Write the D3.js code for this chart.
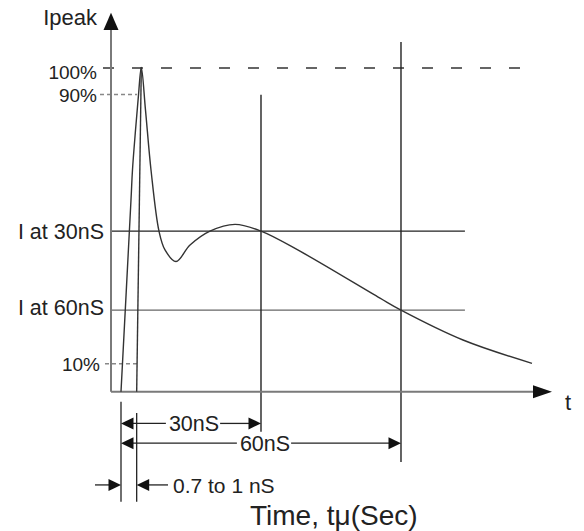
<!doctype html>
<html>
<head>
<title>Surge current waveform</title>
<script src="https://d3js.org/d3.v7.min.js"></script>
<style>
body { margin: 0; background: #fff; }
svg { display: block; font-family: "Liberation Sans", Arial, sans-serif; }
text { fill: #222; }
</style>
</head>
<body>
<script>
// waveform: t in ns (schematic), current in % of Ipeak
var waveT = [0, 2.14, 2.46, 3.11, 3.75, 4.35, 5.25, 6.43, 8.14, 9.43, 11.79, 14.79, 19.07, 24.43, 30, 38.36, 55.5, 60, 73.29, 88.07];
var waveI = [0, 59.2, 68.5, 80.8, 91.7, 100.2, 87.0, 68.5, 49.6, 43.8, 40.2, 45.3, 49.6, 51.7, 49.6, 43.4, 28.9, 25.2, 15.97, 8.77];
var riseT = [3.36, 4.35];
var riseI = [0, 100.2];

var levelLabels = ["100%", "90%", "I at 30nS", "I at 60nS", "10%"];
var levelValues = [100, 91.8, 49.6, 25.2, 8.65];

var spanT = [30, 60];
var spanLabels = ["30nS", "60nS"];
var riseMarks = [0, 3.36];
var riseLabel = "0.7 to 1 nS";

var width = 584, height = 531;

var x = d3.scaleLinear().domain([-2.143, 92.36]).range([111, 552]);
var y = d3.scaleLinear().domain([0, 100]).range([391.7, 68]);

var svg = d3.select("body").append("svg").attr("width", width).attr("height", height);

function arrow(tx, ty, dir, len, half) {
  // filled triangle, tip at (tx,ty); dir: "l","r","u"
  var p;
  if (dir == "r") p = [[tx, ty], [tx - len, ty - half], [tx - len, ty + half]];
  else if (dir == "l") p = [[tx, ty], [tx + len, ty - half], [tx + len, ty + half]];
  else p = [[tx, ty], [tx - half, ty + len], [tx + half, ty + len]];
  svg.append("path").attr("d", "M" + p.join("L") + "Z").attr("fill", "#111");
}

// level guide styles (per label)
var levelStyle = [
  {from: -3.86, to: 85.5, stroke: "#333", dash: "11,18", w: 1.4, lx: 97, dy: 11, fs: 19},
  {from: -4.5, to: 3.43, stroke: "#888", dash: "4,3", w: 1.5, lx: 97, dy: 7, fs: 19},
  {from: -2.14, to: 73.7, stroke: "#222", dash: null, w: 1.4, lx: 104, dy: 8, fs: 21.5},
  {from: -2.14, to: 73.7, stroke: "#666", dash: null, w: 1.4, lx: 104, dy: 5, fs: 21.5},
  {from: -3.43, to: 3.43, stroke: "#888", dash: "4,3", w: 1.5, lx: 100, dy: 7, fs: 19}
];

var levels = levelValues.map(function(v, i) { return {v: v, label: levelLabels[i], s: levelStyle[i]}; });

svg.selectAll(".level").data(levels).enter().append("line")
  .attr("class", "level")
  .attr("x1", function(d) { return x(d.s.from); })
  .attr("x2", function(d) { return x(d.s.to); })
  .attr("y1", function(d) { return y(d.v); })
  .attr("y2", function(d) { return y(d.v); })
  .attr("stroke", function(d) { return d.s.stroke; })
  .attr("stroke-width", function(d) { return d.s.w; })
  .attr("stroke-dasharray", function(d) { return d.s.dash; });

svg.selectAll(".llab").data(levels).enter().append("text")
  .attr("class", "llab")
  .attr("x", function(d) { return d.s.lx; })
  .attr("y", function(d) { return y(d.v) + d.s.dy; })
  .attr("text-anchor", "end")
  .style("font-size", function(d) { return d.s.fs + "px"; })
  .text(function(d) { return d.label; });

// vertical markers at 30 and 60 ns
var vTop = [91.75, 108];
var vBot = [-12.4, -21.7];
svg.selectAll(".vmark").data(spanT).enter().append("line")
  .attr("x1", function(d) { return x(d); })
  .attr("x2", function(d) { return x(d); })
  .attr("y1", function(d, i) { return y(vTop[i]); })
  .attr("y2", function(d, i) { return y(vBot[i]); })
  .attr("stroke", "#222").attr("stroke-width", 1.4);

// extension lines for rise time
var extTop = [-3.1, -6.6];
svg.selectAll(".ext").data(riseMarks).enter().append("line")
  .attr("x1", function(d) { return x(d); })
  .attr("x2", function(d) { return x(d); })
  .attr("y1", function(d, i) { return y(extTop[i]); })
  .attr("y2", y(-34))
  .attr("stroke", "#222").attr("stroke-width", 1.3);

// axes
svg.append("line").attr("x1", x(-2.143)).attr("x2", x(-2.143)).attr("y1", 30).attr("y2", y(0))
  .attr("stroke", "#7a7a7a").attr("stroke-width", 2);
svg.append("line").attr("x1", x(-2.143)).attr("x2", 535).attr("y1", y(0)).attr("y2", y(0))
  .attr("stroke", "#7a7a7a").attr("stroke-width", 2);
arrow(x(-2.143), 12.7, "u", 17.3, 7.5);
arrow(552, y(0), "r", 19, 6.5);

svg.append("text").attr("x", 97).attr("y", 25).attr("text-anchor", "end")
  .style("font-size", "22px").text("Ipeak");
svg.append("text").attr("x", 565).attr("y", 410)
  .style("font-size", "22px").text("t");

// waveform
var wave = waveT.map(function(t, i) { return [t, waveI[i]]; });
var line = d3.line().x(function(d) { return x(d[0]); }).y(function(d) { return y(d[1]); })
  .curve(d3.curveCatmullRom.alpha(0.5));
svg.append("path").datum(wave).attr("d", line)
  .attr("fill", "none").attr("stroke", "#333").attr("stroke-width", 1.4);

var rise = riseT.map(function(t, i) { return [t, riseI[i]]; });
svg.append("path").datum(rise).attr("d", d3.line().x(function(d) { return x(d[0]); }).y(function(d) { return y(d[1]); }))
  .attr("fill", "none").attr("stroke", "#333").attr("stroke-width", 1.4);

// dimension arrows 30nS / 60nS
var spanY = [-9.8, -15.9];
var spanShift = [3, 4];
spanT.forEach(function(t, i) {
  var yy = y(spanY[i]);
  var x0 = x(0), x1 = x(t);
  var txt = svg.append("text").attr("x", (x0 + x1) / 2 + spanShift[i]).attr("y", yy + 8)
    .attr("text-anchor", "middle").style("font-size", "21.5px").text(spanLabels[i]);
  var bb = txt.node().getBBox();
  svg.append("line").attr("x1", x0 + 10).attr("x2", bb.x - 3).attr("y1", yy).attr("y2", yy)
    .attr("stroke", "#222").attr("stroke-width", 1.3);
  svg.append("line").attr("x1", bb.x + bb.width + 1).attr("x2", x1 - 10).attr("y1", yy).attr("y2", yy)
    .attr("stroke", "#222").attr("stroke-width", 1.3);
  arrow(x0, yy, "l", 12.5, 6);
  arrow(x1, yy, "r", 12.5, 6);
});

// rise time arrows
var ry = y(-28.8);
svg.append("line").attr("x1", 95).attr("x2", x(riseMarks[0]) - 8).attr("y1", ry).attr("y2", ry)
  .attr("stroke", "#222").attr("stroke-width", 1.3);
arrow(x(riseMarks[0]), ry, "r", 12.5, 6);
svg.append("line").attr("x1", x(riseMarks[1]) + 8).attr("x2", 168).attr("y1", ry).attr("y2", ry)
  .attr("stroke", "#222").attr("stroke-width", 1.3);
arrow(x(riseMarks[1]), ry, "l", 12.5, 6);
svg.append("text").attr("x", 173).attr("y", ry + 7.7)
  .style("font-size", "21px").text(riseLabel);

svg.append("text").attr("x", 250).attr("y", 525)
  .style("font-size", "28px").text("Time, t\u03bc(Sec)");
</script>
</body>
</html>
